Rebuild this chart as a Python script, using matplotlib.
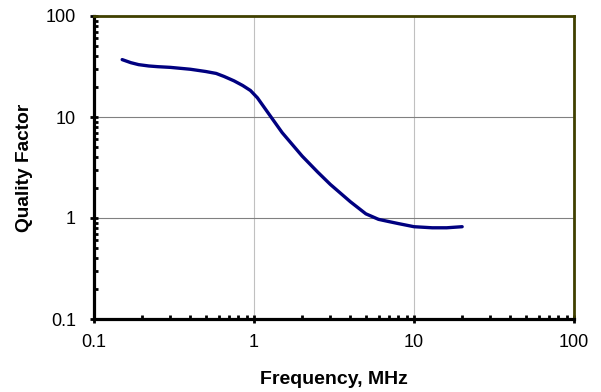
import matplotlib
matplotlib.use("Agg")
import matplotlib.pyplot as plt
from matplotlib.ticker import LogLocator, FixedLocator, FixedFormatter, NullFormatter

plt.rcParams['font.family'] = ['Liberation Sans', 'DejaVu Sans']

# frequency (MHz) and quality factor
freq = [0.15, 0.17, 0.19, 0.22, 0.25, 0.3, 0.4, 0.5, 0.58, 0.65, 0.75, 0.85,
        0.95, 1.05, 1.25, 1.5, 2.0, 2.5, 3.0, 4.0, 5.0, 6.0, 7.0, 8.0, 10, 13, 16, 20]
qfac = [37, 34.5, 33, 32, 31.5, 31, 29.7, 28.2, 27, 25.2, 22.8, 20.5,
        18.3, 15.5, 10.5, 7.0, 4.1, 2.85, 2.15, 1.45, 1.1, 0.97, 0.92, 0.88, 0.82, 0.80, 0.80, 0.82]
ticks = [0.1, 1, 10, 100]
tick_labels = ["0.1", "1", "10", "100"]

fig = plt.figure(figsize=(6.01, 3.92), dpi=100)
ax = fig.add_axes([94/601, 1 - 319/392, (574 - 94)/601, (319 - 16)/392])

ax.plot(freq, qfac, color="#000080", lw=2.4, solid_capstyle="round",
        solid_joinstyle="round", zorder=3)

ax.set_xscale("log")
ax.set_yscale("log")
ax.set_xlim(0.1, 100)
ax.set_ylim(0.1, 100)

for axis in (ax.xaxis, ax.yaxis):
    axis.set_major_locator(FixedLocator(ticks))
    axis.set_major_formatter(FixedFormatter(tick_labels))
    axis.set_minor_locator(LogLocator(base=10, subs=range(2, 10)))
    axis.set_minor_formatter(NullFormatter())

ax.tick_params(which="major", direction="inout", length=6, width=2, color="black",
               labelsize=13)
ax.tick_params(which="minor", direction="in", length=3, width=2, color="black")
ax.tick_params(axis="y", which="major", pad=10)
ax.tick_params(axis="x", which="major", pad=8)

ax.xaxis.grid(True, which="major", color="#c0c0c0", lw=0.8)
ax.yaxis.grid(True, which="major", color="#808080", lw=0.8)

for side in ("left", "bottom"):
    ax.spines[side].set_color("black")
    ax.spines[side].set_linewidth(2.3)
for side in ("top", "right"):
    ax.spines[side].set_color("#404000")
    ax.spines[side].set_linewidth(2)

ax.set_xlabel("Frequency, MHz", fontsize=14, fontweight="bold")
ax.set_ylabel("Quality Factor", fontsize=13.8, fontweight="bold")
ax.xaxis.set_label_coords(0.5, -0.172)
ax.yaxis.set_label_coords(-0.127, 0.5)

fig.savefig("out.png", dpi=100)
